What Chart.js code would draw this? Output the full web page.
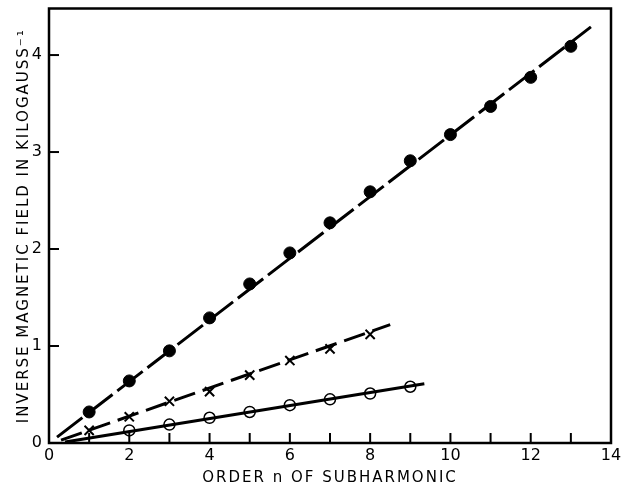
<!DOCTYPE html>
<html>
<head>
<meta charset="utf-8">
<script src="https://cdn.jsdelivr.net/npm/chart.js@4/dist/chart.umd.min.js"></script>
<style>
  body { margin: 0; background: #fff; }
  #wrap { width: 625px; height: 487px; }
</style>
</head>
<body>
<div id="wrap"><canvas id="chart" width="625" height="487"></canvas></div>
<script>
// Subharmonic order vs inverse field
const orders = [1, 2, 3, 4, 5, 6, 7, 8, 9, 10, 11, 12, 13];
const filledVals = [0.32, 0.64, 0.95, 1.29, 1.64, 1.96, 2.27, 2.59, 2.91, 3.18, 3.47, 3.77, 4.09];
const crossOrders = [1, 2, 3, 4, 5, 6, 7, 8];
const crossVals = [0.13, 0.27, 0.43, 0.53, 0.70, 0.85, 0.97, 1.12];
const openOrders = [2, 3, 4, 5, 6, 7, 8, 9];
const openVals = [0.13, 0.19, 0.26, 0.32, 0.39, 0.45, 0.51, 0.58];

// fitted straight lines (start / end points)
const filledFitX = [0.2, 13.5];
const filledFitY = [0.06, 4.29];
const crossFitX = [0.3, 8.5];
const crossFitY = [0.03, 1.22];
const openFitX = [0.4, 9.35];
const openFitY = [0.01, 0.61];

const xTicks = [0, 2, 4, 6, 8, 10, 12, 14];
const yTicks = [0, 1, 2, 3, 4];

const pts = (xs, ys) => xs.map((x, i) => ({ x: x, y: ys[i] }));
const FONT = 'DejaVu Sans';

// wide lettering for the axis titles only (titles draw before datasets, tick labels after)
const spacing = {
    id: 'spacing',
    beforeDraw(chart) { chart.ctx.letterSpacing = '2px'; },
    beforeDatasetsDraw(chart) { chart.ctx.letterSpacing = '0px'; }
};

// inward tick marks + frame
const frameTicks = {
    id: 'frameTicks',
    afterDraw(chart) {
        const { ctx, chartArea: a, scales } = chart;
        ctx.save();
        ctx.strokeStyle = '#000';
        ctx.lineWidth = 2.5;
        ctx.strokeRect(a.left, a.top, a.right - a.left, a.bottom - a.top);
        ctx.lineWidth = 2;
        for (let v = 1; v <= 13; v++) {
            const px = scales.x.getPixelForValue(v);
            ctx.beginPath();
            ctx.moveTo(px, a.bottom);
            ctx.lineTo(px, a.bottom - 10);
            ctx.stroke();
        }
        yTicks.forEach(v => {
            if (v === 0) return;
            const py = scales.y.getPixelForValue(v);
            ctx.beginPath();
            ctx.moveTo(a.left, py);
            ctx.lineTo(a.left + 10, py);
            ctx.stroke();
        });
        ctx.restore();
    }
};

new Chart(document.getElementById('chart'), {
    type: 'scatter',
    data: {
        datasets: [
            { data: pts(filledFitX, filledFitY), showLine: true, borderColor: '#000', borderWidth: 3, borderDash: [32, 6], pointRadius: 0 },
            { data: pts(crossFitX, crossFitY), showLine: true, borderColor: '#000', borderWidth: 3, borderDash: [22, 8], pointRadius: 0 },
            { data: pts(openFitX, openFitY), showLine: true, borderColor: '#000', borderWidth: 3, pointRadius: 0 },
            { data: pts(orders, filledVals), pointStyle: 'circle', pointRadius: 6, backgroundColor: '#000', borderColor: '#000' },
            { data: pts(crossOrders, crossVals), pointStyle: 'crossRot', pointRadius: 6.5, borderWidth: 2, borderColor: '#000' },
            { data: pts(openOrders, openVals), pointStyle: 'circle', pointRadius: 5.5, backgroundColor: '#fff', borderColor: '#000', borderWidth: 1.5 }
        ]
    },
    options: {
        responsive: false,
        animation: false,
        layout: { padding: { top: 8, right: 14, left: 0, bottom: 0 } },
        plugins: { legend: { display: false }, tooltip: { enabled: false } },
        scales: {
            x: {
                type: 'linear', min: 0, max: 14,
                afterBuildTicks: s => { s.ticks = xTicks.map(v => ({ value: v })); },
                afterFit: s => { s.height = 44; s.paddingLeft = 0; s.paddingRight = 0; },
                grid: { display: false, drawTicks: false },
                border: { display: false },
                ticks: { color: '#000', font: { family: FONT, size: 16 }, padding: 3, maxRotation: 0, z: 1 },
                title: { display: true, text: 'ORDER n OF SUBHARMONIC', color: '#000', font: { family: FONT, size: 15 }, padding: { top: 0, bottom: 0 } }
            },
            y: {
                type: 'linear', min: 0, max: 4.48,
                afterBuildTicks: s => { s.ticks = yTicks.map(v => ({ value: v })); },
                afterFit: s => { s.width = 49; s.paddingTop = 0; s.paddingBottom = 0; },
                grid: { display: false, drawTicks: false },
                border: { display: false },
                ticks: { color: '#000', font: { family: FONT, size: 16 }, padding: 7, z: 1 },
                title: { display: true, text: 'INVERSE MAGNETIC FIELD IN KILOGAUSS⁻¹', color: '#000', font: { family: FONT, size: 15 }, padding: { top: 15, bottom: 0 } }
            }
        }
    },
    plugins: [spacing, frameTicks]
});
</script>
</body>
</html>
